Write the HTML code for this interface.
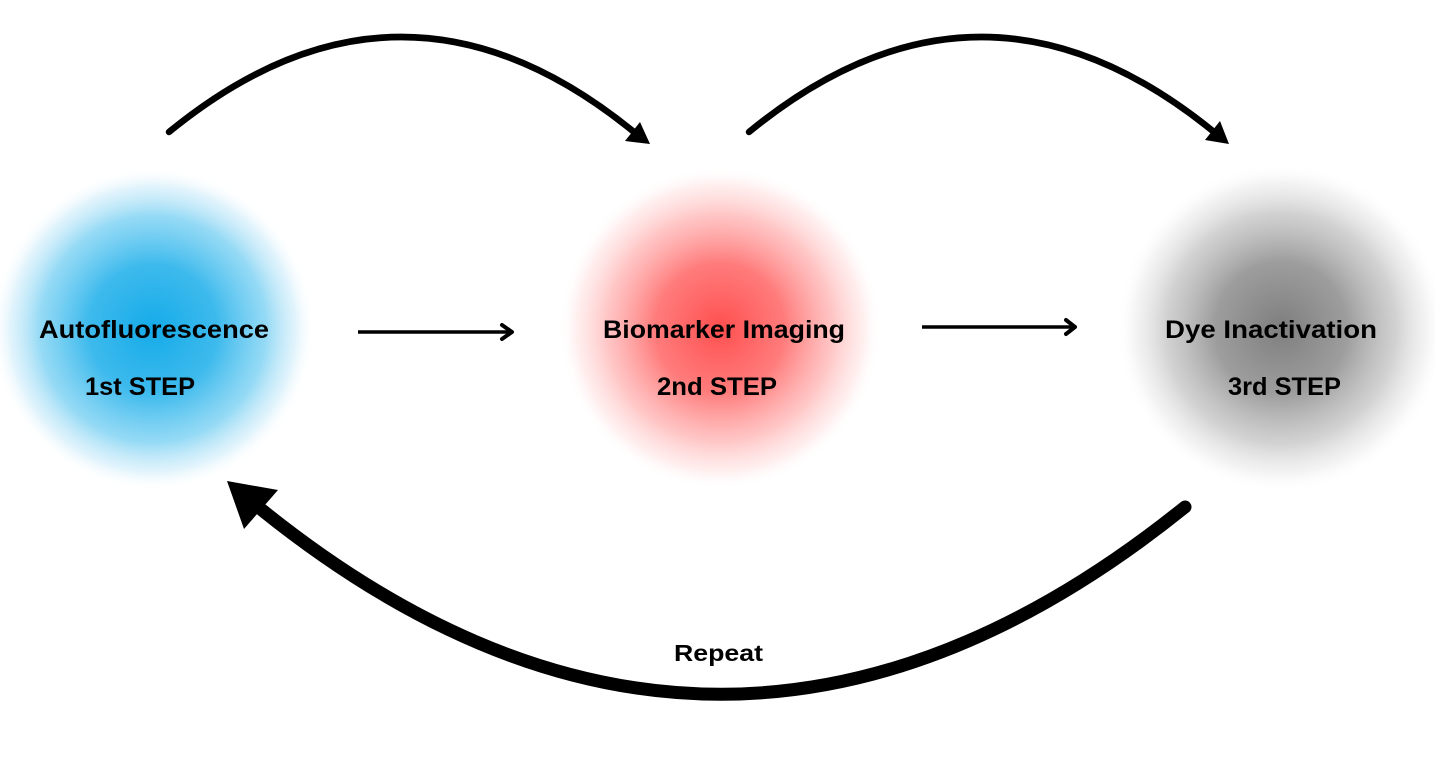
<!DOCTYPE html>
<html>
<head>
<meta charset="utf-8">
<style>
  html, body { margin: 0; padding: 0; background: #ffffff; }
  body { width: 1435px; height: 772px; overflow: hidden; }
  svg { display: block; }
  text { font-family: "Liberation Sans", "DejaVu Sans", sans-serif; font-weight: bold; fill: #000; }
</style>
</head>
<body>
<svg width="1435" height="772" viewBox="0 0 1435 772" xmlns="http://www.w3.org/2000/svg">
  <defs>
    <radialGradient id="gBlue" cx="0.5" cy="0.5" r="0.5">
      <stop offset="0" stop-color="#14abe9" stop-opacity="1"/>
      <stop offset="0.4" stop-color="#2db4eb" stop-opacity="0.92"/>
      <stop offset="0.7" stop-color="#5cc6f0" stop-opacity="0.65"/>
      <stop offset="0.88" stop-color="#a8def6" stop-opacity="0.35"/>
      <stop offset="1" stop-color="#ffffff" stop-opacity="0"/>
    </radialGradient>
    <radialGradient id="gRed" cx="0.5" cy="0.5" r="0.5">
      <stop offset="0" stop-color="#ff4f4f" stop-opacity="1"/>
      <stop offset="0.4" stop-color="#ff6464" stop-opacity="0.85"/>
      <stop offset="0.7" stop-color="#ff8c8c" stop-opacity="0.5"/>
      <stop offset="0.88" stop-color="#ffc4c4" stop-opacity="0.3"/>
      <stop offset="1" stop-color="#ffffff" stop-opacity="0"/>
    </radialGradient>
    <radialGradient id="gGray" cx="0.5" cy="0.5" r="0.5">
      <stop offset="0" stop-color="#7e7e7e" stop-opacity="1"/>
      <stop offset="0.4" stop-color="#929292" stop-opacity="0.9"/>
      <stop offset="0.7" stop-color="#b4b4b4" stop-opacity="0.6"/>
      <stop offset="0.88" stop-color="#dddddd" stop-opacity="0.35"/>
      <stop offset="1" stop-color="#ffffff" stop-opacity="0"/>
    </radialGradient>
  </defs>

  <!-- glowing circles -->
  <circle cx="153" cy="329" r="162" fill="url(#gBlue)"/>
  <circle cx="720" cy="328" r="162" fill="url(#gRed)"/>
  <circle cx="1281" cy="328" r="165" fill="url(#gGray)"/>

  <!-- top arc 1 -->
  <path d="M169,132 Q401,-58 634,132" fill="none" stroke="#000" stroke-width="6.5" stroke-linecap="round"/>
  <polygon points="650,144 640,122 625,141" fill="#000"/>

  <!-- top arc 2 -->
  <path d="M749,132 Q981,-58 1214,132" fill="none" stroke="#000" stroke-width="6.5" stroke-linecap="round"/>
  <polygon points="1229,144 1220,121 1205,140" fill="#000"/>

  <!-- straight arrows -->
  <line x1="358" y1="332" x2="511" y2="332" stroke="#000" stroke-width="3.5"/>
  <polyline points="502,325 512,332 502,339" fill="none" stroke="#000" stroke-width="4" stroke-linecap="round" stroke-linejoin="round"/>
  <line x1="922" y1="327" x2="1074" y2="327" stroke="#000" stroke-width="3.5"/>
  <polyline points="1066,320 1075,327 1066,334" fill="none" stroke="#000" stroke-width="4" stroke-linecap="round" stroke-linejoin="round"/>

  <!-- bottom repeat arc -->
  <path d="M1185,507 Q722,880 262,510" fill="none" stroke="#000" stroke-width="13" stroke-linecap="round"/>
  <polygon points="227,481 278,490 244,529" fill="#000"/>

  <!-- labels -->
  <text x="39" y="338" font-size="25" textLength="230" lengthAdjust="spacingAndGlyphs">Autofluorescence</text>
  <text x="85" y="395" font-size="25" textLength="110" lengthAdjust="spacingAndGlyphs">1st STEP</text>

  <text x="603" y="338" font-size="25" textLength="242" lengthAdjust="spacingAndGlyphs">Biomarker Imaging</text>
  <text x="657" y="395" font-size="25" textLength="120" lengthAdjust="spacingAndGlyphs">2nd STEP</text>

  <text x="1165" y="338" font-size="25" textLength="212" lengthAdjust="spacingAndGlyphs">Dye Inactivation</text>
  <text x="1228" y="395" font-size="25" textLength="113" lengthAdjust="spacingAndGlyphs">3rd STEP</text>

  <text x="674" y="661" font-size="23.5" textLength="89" lengthAdjust="spacingAndGlyphs">Repeat</text>
</svg>
</body>
</html>
